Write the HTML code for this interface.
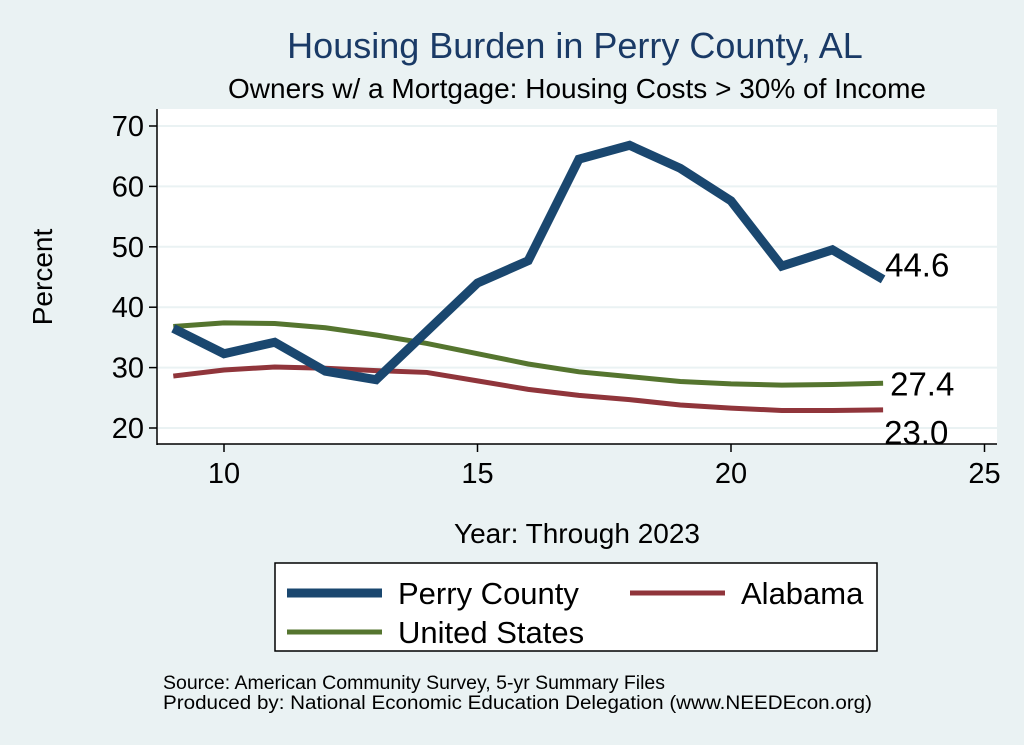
<!DOCTYPE html>
<html><head><meta charset="utf-8"><style>
body{margin:0;background:#eaf2f3;font-family:"Liberation Sans",sans-serif;}
svg{display:block}
</style></head><body>
<svg width="1024" height="745">
<rect x="0" y="0" width="1024" height="745" fill="#eaf2f3"/>
<text x="575" y="58" font-size="36" fill="#1a3a66" text-anchor="middle">Housing Burden in Perry County, AL</text>
<text x="577" y="98" font-size="28" fill="#000" text-anchor="middle">Owners w/ a Mortgage: Housing Costs &gt; 30% of Income</text>
<rect x="157" y="109" width="840" height="335" fill="#fff"/>
<g id="grid"></g>
<g id="axes"></g>
<g id="series"></g>
<text x="52" y="277" font-size="28" transform="rotate(-90 52 277)" text-anchor="middle">Percent</text>
<text x="577" y="543" font-size="28" text-anchor="middle">Year: Through 2023</text>
<g>
<rect x="275" y="563" width="602" height="88" fill="#fff" stroke="#000" stroke-width="1.5"/>
<line x1="287" y1="593" x2="382" y2="593" stroke="#1a476f" stroke-width="9"/>
<text x="398" y="604" font-size="31">Perry County</text>
<line x1="630" y1="593" x2="725" y2="593" stroke="#90353b" stroke-width="5"/>
<text x="741" y="604" font-size="31">Alabama</text>
<line x1="287" y1="632" x2="382" y2="632" stroke="#55752f" stroke-width="5"/>
<text x="398" y="643" font-size="31">United States</text>
</g>
<text x="163" y="689" font-size="19" textLength="502" lengthAdjust="spacingAndGlyphs">Source: American Community Survey, 5-yr Summary Files</text>
<text x="163" y="709" font-size="19" textLength="709" lengthAdjust="spacingAndGlyphs">Produced by: National Economic Education Delegation (www.NEEDEcon.org)</text>
</svg>
<script>
const years=[9,10,11,12,13,14,15,16,17,18,19,20,21,22,23];
const perry=[36.5,32.3,34.2,29.4,28.0,36.0,44.0,47.7,64.5,66.8,63.0,57.6,46.8,49.5,44.6];
const alabama=[28.6,29.6,30.1,29.9,29.5,29.2,27.8,26.4,25.4,24.7,23.8,23.3,22.9,22.9,23.0];
const us=[36.8,37.4,37.3,36.6,35.4,34.0,32.3,30.6,29.3,28.5,27.7,27.3,27.1,27.2,27.4];
const yTicks=[20,30,40,50,60,70];
const xTicks=[10,15,20,25];
const NS='http://www.w3.org/2000/svg';
const xs=v=>224+(v-10)*50.7;
const ys=v=>428-(v-20)*6.04;
function mk(t,a,p){const e=document.createElementNS(NS,t);for(const k in a)e.setAttribute(k,a[k]);p.appendChild(e);return e;}
const g=document.getElementById('grid'),ax=document.getElementById('axes'),s=document.getElementById('series');
yTicks.forEach(v=>{
 const l=mk('line',{x1:158,x2:997,y1:ys(v),y2:ys(v),stroke:'#eaf2f3','stroke-width':2},g);
 
 
 mk('line',{x1:149,x2:157,y1:ys(v),y2:ys(v),stroke:'#000','stroke-width':1.5},ax);
 const t=mk('text',{x:144,y:ys(v)+10,'font-size':29,'text-anchor':'end'},ax);t.textContent=v;
 
 
});
xTicks.forEach(v=>{
 mk('line',{x1:xs(v),x2:xs(v),y1:444,y2:452,stroke:'#000','stroke-width':1.5},ax);
 const t=mk('text',{x:xs(v),y:483,'font-size':29,'text-anchor':'middle'},ax);t.textContent=v;
 
 
});
mk('line',{x1:157,x2:157,y1:109,y2:445,stroke:'#000','stroke-width':1.5},ax);
mk('line',{x1:157,x2:997,y1:444,y2:444,stroke:'#000','stroke-width':1.5},ax);
function line(d,c,w,name,lx,ly){
 const p=mk('polyline',{points:years.map((y,i)=>xs(y)+','+ys(d[i])).join(' '),fill:'none',stroke:c,'stroke-width':w,'stroke-linejoin':'miter'},s);
 
 
 const last=d[d.length-1];
 const t=mk('text',{x:xs(years[years.length-1])+lx,y:ys(last)+ly,'font-size':33},s);t.textContent=last.toFixed(1);
 
 
}
line(alabama,'#90353b',5,'alabama-line',1,34);
line(us,'#55752f',5,'us-line',7,12);
line(perry,'#1a476f',9,'perry-county-line',2,-3);
</script>
</body></html>
